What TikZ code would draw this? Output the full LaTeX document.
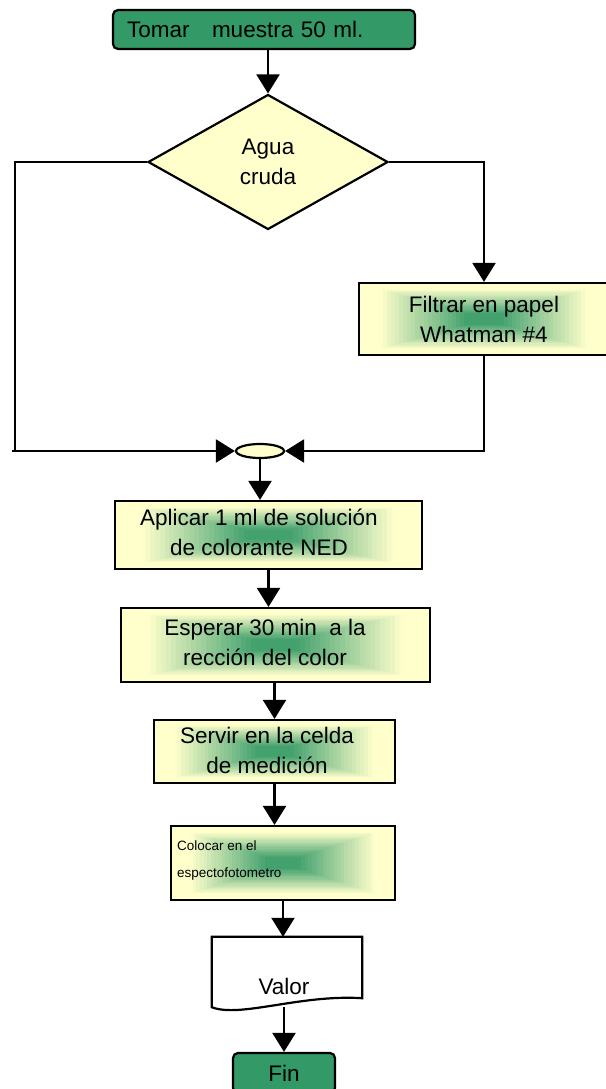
\documentclass[tikz,border=0pt]{standalone}
\usepackage{fontspec}
\setmainfont{Liberation Sans}
\usetikzlibrary{arrows.meta,shapes.geometric,calc}
\definecolor{boxgreen}{HTML}{339966}
\definecolor{boxyellow}{HTML}{FFFFCC}
\begin{document}
\begin{tikzpicture}[x=1pt,y=-1pt,
  every node/.style={font=\fontsize{22.5}{30}\selectfont, inner sep=0pt},
  outline/.style={draw=black, line width=2.2pt},
  line/.style={line width=2.2pt},
  conn/.style={line width=2.2pt, -{Triangle[width=23pt,length=19pt]}},
  terminal/.style={outline, fill=boxgreen, rounded corners=5pt},
  shadebox/.style={outline, fill=boxyellow, path picture={
    \foreach \k in {1,...,30}{
      \pgfmathsetmacro{\f}{1-\k/31}
      \pgfmathtruncatemacro{\p}{max(0,min(92,(0.85-\f)/0.75*100))}
      \fill[boxgreen!\p!boxyellow]
        ($(path picture bounding box.center)!\f!(path picture bounding box.south west)$)
        rectangle
        ($(path picture bounding box.center)!\f!(path picture bounding box.north east)$);
    }}},
  smalltext/.style={font=\fontsize{13.5}{27}\selectfont}
]
\useasboundingbox (0,0) rectangle (605,1089);

% process boxes
\node[terminal, minimum width=302pt, minimum height=39pt, text width=274pt,
      inner xsep=14pt, align=left] (start) at (264,29.5) {Tomar~~~muestra 50 ml.};
\node[shape=diamond, outline, fill=boxyellow, minimum width=240pt,
      minimum height=135pt, align=center] (dec) at (268,162) {Agua\\cruda};
\node[shadebox, minimum width=250pt, minimum height=72pt, align=center]
      (filt) at (484,319) {Filtrar en papel\\Whatman \#4};
\node[shape=ellipse, outline, fill=boxyellow, minimum width=48pt,
      minimum height=14pt] (merge) at (260,451) {};

\node[shadebox, minimum width=307pt, minimum height=68pt] (apl) at (268.5,535) {};
\node[align=center] (aplT) at (259,532.5) {Aplicar 1 ml de solución\\de colorante NED};

\node[shadebox, minimum width=309pt, minimum height=74pt] (esp) at (275.5,645) {};
\node[align=center] (espT) at (265,642.5) {Esperar 30 min\ \ a la\\rección del color};

\node[shadebox, minimum width=241pt, minimum height=63pt] (serv) at (274.5,751.5) {};
\node[align=center] (servT) at (267,750) {Servir en la celda\\de medición};

\node[shadebox, minimum width=224pt, minimum height=74pt] (col) at (283,863) {};
\node[smalltext, align=left, anchor=west] (colT) at (177,860.5) {Colocar en el\\espectofotometro};

% document shape for the result
\node[minimum width=150pt, minimum height=70pt] (valor) at (287,972) {};
\draw[outline, fill=white] (valor.north west) -- (valor.north east)
  -- ([yshift=9pt]valor.south east)
  .. controls ([xshift=-62pt,yshift=13pt]valor.south east)
  and ([xshift=28pt,yshift=-11pt]valor.south west) .. (valor.south west) -- cycle;
\node (valorT) at (284,986) {Valor};

\node[terminal, minimum width=102pt, minimum height=40pt] (fin) at (284,1073) {Fin};

% connectors
\coordinate (lb) at (15,451);
\coordinate (lt) at (12,451);
\draw[conn] (dec.north |- start.south) -- (dec.north);
\draw[line] (dec.west) -| (lb);
\draw[conn] (lt) -- (merge.west);
\draw[conn] (dec.east) -| (filt.north);
\draw[conn] (filt.south) |- (merge.east);
\draw[conn] (merge.south) -- (merge.south |- apl.north);
\draw[conn] (apl.south) -- (apl.south |- esp.north);
\draw[conn] (serv.north |- esp.south) -- (serv.north);
\draw[conn] (serv.south) -- (serv.south |- col.north);
\draw[conn] (col.south) -- (col.south |- valor.north);
\draw[conn] (fin.north |- valor.south) -- (fin.north);
\end{tikzpicture}
\end{document}
